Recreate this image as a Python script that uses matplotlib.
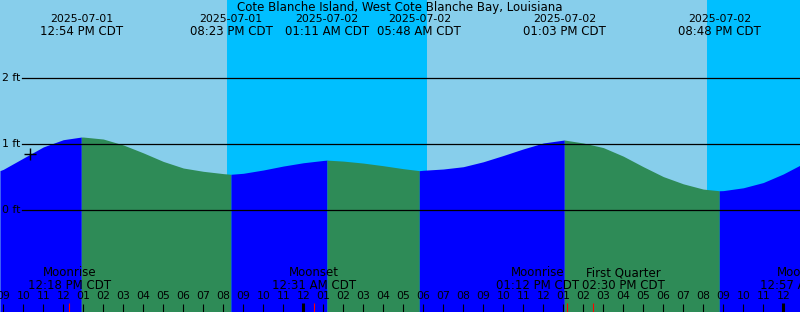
import matplotlib
matplotlib.use("Agg")
import matplotlib.pyplot as plt
import matplotlib.dates as mdates
import numpy as np
import pandas as pd

TITLE = "Cote Blanche Island, West Cote Blanche Bay, Louisiana"

# tide level (ft), hourly plus the turning points
tide_times = [
    "2025-07-01 08:50", "2025-07-01 09:00", "2025-07-01 10:00", "2025-07-01 11:00",
    "2025-07-01 12:00", "2025-07-01 12:54", "2025-07-01 13:00", "2025-07-01 14:00",
    "2025-07-01 15:00", "2025-07-01 16:00", "2025-07-01 17:00", "2025-07-01 18:00",
    "2025-07-01 19:00", "2025-07-01 20:00", "2025-07-01 20:23", "2025-07-01 21:00",
    "2025-07-01 22:00", "2025-07-01 23:00", "2025-07-02 00:00", "2025-07-02 01:00",
    "2025-07-02 01:11", "2025-07-02 02:00", "2025-07-02 03:00", "2025-07-02 04:00",
    "2025-07-02 05:00", "2025-07-02 05:48", "2025-07-02 06:00", "2025-07-02 07:00",
    "2025-07-02 08:00", "2025-07-02 09:00", "2025-07-02 10:00", "2025-07-02 11:00",
    "2025-07-02 12:00", "2025-07-02 13:00", "2025-07-02 13:03", "2025-07-02 14:00",
    "2025-07-02 15:00", "2025-07-02 16:00", "2025-07-02 17:00", "2025-07-02 18:00",
    "2025-07-02 19:00", "2025-07-02 20:00", "2025-07-02 20:48", "2025-07-02 21:00",
    "2025-07-02 22:00", "2025-07-02 23:00", "2025-07-03 00:00", "2025-07-03 00:51",
]
tide_levels = [
    0.60, 0.62, 0.79, 0.96,
    1.07, 1.11, 1.11, 1.08,
    0.99, 0.87, 0.74, 0.64,
    0.59, 0.555, 0.545, 0.56,
    0.61, 0.67, 0.72, 0.755,
    0.76, 0.745, 0.715, 0.675,
    0.63, 0.60, 0.606, 0.625,
    0.66, 0.735, 0.83, 0.93,
    1.02, 1.063, 1.065, 1.02,
    0.95, 0.82, 0.66, 0.51,
    0.40, 0.32, 0.295, 0.297,
    0.34, 0.42, 0.55, 0.685,
]

extreme_times = [
    "2025-07-01 12:54", "2025-07-01 20:23", "2025-07-02 01:11",
    "2025-07-02 05:48", "2025-07-02 13:03", "2025-07-02 20:48",
]

sunset_times = ["2025-07-01 20:11", "2025-07-02 20:11"]
sunrise_times = ["2025-07-02 06:11", "2025-07-03 06:11"]

moon_times = [
    "2025-07-01 12:18", "2025-07-02 00:31", "2025-07-02 13:12",
    "2025-07-02 14:30", "2025-07-03 00:57",
]
moon_names = ["Moonrise", "Moonset", "Moonrise", "First Quarter", "Moonset"]

current_time = "2025-07-01 10:20"
current_level = 0.86

level_lines = [0, 1, 2]

VIEW_START = "2025-07-01 08:50:06"
VIEW_HOURS = 40

SKY_DAY = "#87CEEB"
SKY_NIGHT = "#00BFFF"
RISING = "#0000FF"
FALLING = "#2E8B57"
FS_WORD = 8.5   # text with letters
FS_NUM = 7.8    # digits only

W, H = 800, 312


def num(ts):
    return mdates.date2num(pd.to_datetime(ts))


def main() -> None:
    fig = plt.figure(figsize=[W / 100, H / 100], dpi=100)
    ax = fig.add_axes([0, 0, 1, 1])
    ax.set_axis_off()

    x0 = num(VIEW_START)
    x1 = x0 + VIEW_HOURS / 24
    px = (x1 - x0) / W  # one pixel in date units
    ax.set_xlim(x0, x1)
    ax.set_ylim(-1.545, 3.19)

    # sky
    ax.axvspan(x0, x1, color=SKY_DAY, lw=0, zorder=0)
    for ss, sr in zip(sunset_times, sunrise_times):
        ax.axvspan(num(ss), num(sr), color=SKY_NIGHT, lw=0, zorder=0)

    # water, blue while rising, green while falling
    t = np.array([num(s) for s in tide_times])
    v = np.array(tide_levels)
    bounds = [t[0]] + [num(s) for s in extreme_times] + [t[-1]]
    for a, b in zip(bounds[:-1], bounds[1:]):
        m = (t >= a - 1e-9) & (t <= b + 1e-9)
        col = RISING if v[m][-1] > v[m][0] else FALLING
        ax.fill_between(t[m], v[m], -2, color=col, lw=0, zorder=1)

    # level lines
    for lv in level_lines:
        ax.axhline(lv, xmin=22 / W, xmax=1, color="black", lw=0.9, zorder=3)
        ax.text(2.5 / W, lv, f"{lv} ft", transform=ax.get_yaxis_transform(),
                ha="left", va="center", fontsize=FS_NUM, zorder=4)

    ax.plot(num(current_time), current_level, marker="+", color="black",
            markersize=8, mew=1, zorder=4)

    # title and high/low labels
    ax.text(0.5, 1 - 7.2 / H, TITLE, transform=ax.transAxes,
            ha="center", va="center", fontsize=FS_WORD)
    xt = ax.get_xaxis_transform()
    for s in extreme_times:
        ts = pd.to_datetime(s)
        ax.text(num(s), 1 - 19.5 / H, ts.strftime("%Y-%m-%d"), transform=xt,
                ha="center", va="center", fontsize=FS_NUM)
        ax.text(num(s), 1 - 31.3 / H, ts.strftime("%I:%M %p CDT"), transform=xt,
                ha="center", va="center", fontsize=FS_WORD)

    # hour ticks and labels along the bottom
    hours = pd.date_range("2025-07-01 09:00", "2025-07-03 00:00", freq="h")
    for h in hours:
        xh = num(h)
        if h.hour == 0:
            ax.plot([xh, xh], [0, 9 / H], transform=xt, color="black",
                    lw=2.2, solid_capstyle="butt", zorder=5)
        else:
            ax.plot([xh, xh], [0, 8 / H], transform=xt, color="black",
                    lw=0.8, solid_capstyle="butt", zorder=5)
        ax.text(xh, 16 / H, h.strftime("%I"), transform=xt,
                ha="center", va="center", fontsize=FS_NUM, zorder=5)

    # moon events, labels pushed apart when they would overlap
    mx = [num(s) for s in moon_times]
    lx = list(mx)
    label_w = 86 * px
    for i in range(len(lx) - 1):
        if lx[i + 1] - lx[i] < label_w:
            mid = (lx[i] + lx[i + 1]) / 2
            lx[i] = mid - label_w / 2
            lx[i + 1] = mid + label_w / 2
    for s, name, xm, xl in zip(moon_times, moon_names, mx, lx):
        ts = pd.to_datetime(s)
        ax.plot([xm, xm], [0, 9 / H], transform=xt, color="red",
                lw=0.8, solid_capstyle="butt", zorder=6)
        ax.text(xl, 39 / H, name, transform=xt, ha="center", va="center",
                fontsize=FS_WORD, zorder=5)
        ax.text(xl, 26.5 / H, ts.strftime("%I:%M %p CDT"), transform=xt,
                ha="center", va="center", fontsize=FS_WORD, zorder=5)

    fig.savefig("out.png", dpi=100)


if __name__ == '__main__':
    main()
